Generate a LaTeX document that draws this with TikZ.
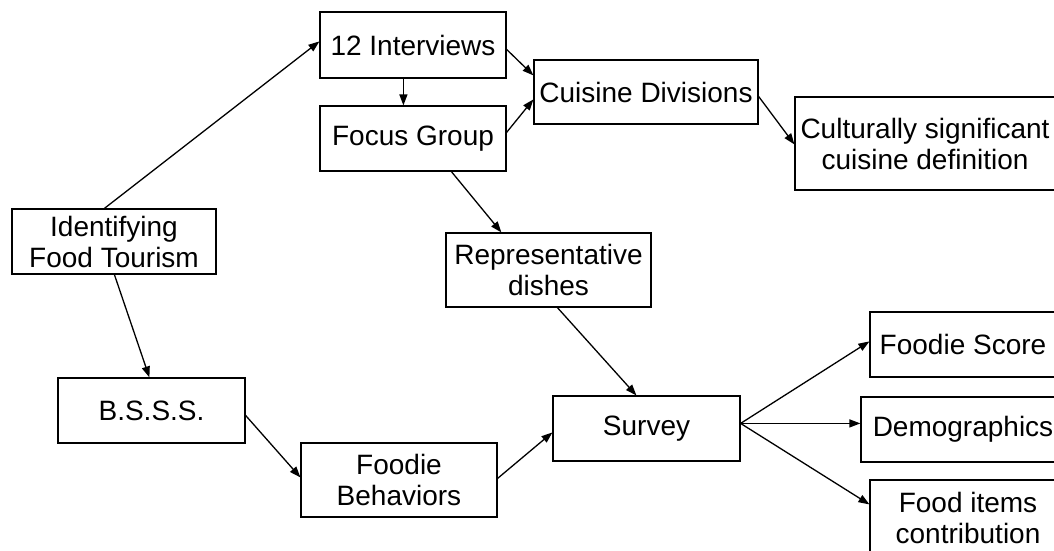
\documentclass[tikz,border=0pt]{standalone}
\usepackage{fontspec}
\setmainfont{Liberation Sans}
\usetikzlibrary{arrows.meta,calc}
\begin{document}
\begin{tikzpicture}[x=1pt,y=-1pt,
  box/.style={draw=black,line width=1.2pt,rectangle,inner sep=0pt,align=center,
    font=\fontsize{28}{31}\selectfont},
  conn/.style={line width=1.3pt,-{Triangle[length=11pt,width=8pt]}}]
\clip (0,0) rectangle (1054,550);
\fill[white] (0,0) rectangle (1054,550);
\node[box,minimum width=186pt,minimum height=66pt] (i12) at (413,45) {12 Interviews};
\node[box,minimum width=186pt,minimum height=65pt] (fg) at (413,138.5) {Focus Group};
\node[box,minimum width=224pt,minimum height=64pt] (cd) at (646,92) {Cuisine Divisions};
\node[box,minimum width=260pt,minimum height=93pt] (csc) at (925,143.5) {Culturally significant\\cuisine definition};
\node[box,minimum width=204pt,minimum height=65pt] (idf) at (114,241.5) {Identifying\\Food Tourism};
\node[box,minimum width=187pt,minimum height=65pt] (bsss) at (151.5,410.5) {B.S.S.S.};
\node[box,minimum width=196pt,minimum height=74pt] (fb) at (399,480) {Foodie\\Behaviors};
\node[box,minimum width=205pt,minimum height=74pt] (rd) at (548.5,270) {Representative\\dishes};
\node[box,minimum width=187pt,minimum height=65pt] (sv) at (646.5,428.5) {Survey};
\node[box,minimum width=186pt,minimum height=65pt] (fs) at (963,344.5) {Foodie Score};
\node[box,minimum width=204pt,minimum height=65pt] (dm) at (963,429.5) {Demographics};
\node[box,minimum width=196pt,minimum height=76pt] (fi) at (968,518) {Food items\\contribution};

\draw[conn] ($(idf.north west)+(93,0)$) -- ($(i12.north west)+(0,30)$);
\draw[conn] ($(idf.south west)+(103,0)$) -- ($(bsss.north west)+(92,0)$);
\draw[conn] ($(bsss.north east)+(0,38)$) -- ($(fb.north west)+(0,35)$);
\draw[conn] ($(fb.north east)+(0,36)$) -- ($(sv.north west)+(0,37)$);
\draw[conn] ($(rd.south west)+(112,0)$) -- ($(sv.north west)+(84,0)$);
\draw[conn] ($(fg.south west)+(132,0)$) -- ($(rd.north west)+(56,0)$);
\draw[conn] ($(i12.south west)+(84,0)$) -- ($(fg.north west)+(84,0)$);
\draw[conn] ($(i12.north east)+(0,38)$) -- ($(cd.north west)+(0,16)$);
\draw[conn] ($(fg.north east)+(0,27)$) -- ($(cd.north west)+(0,40)$);
\draw[conn] ($(cd.north east)+(0,37)$) -- ($(csc.north west)+(0,48)$);
\draw[conn] ($(sv.north east)+(0,28)$) -- ($(fs.north west)+(0,30)$);
\draw[conn] ($(sv.north east)+(0,28)$) -- ($(dm.north west)+(0,27)$);
\draw[conn] ($(sv.north east)+(0,28)$) -- ($(fi.north west)+(0,25)$);
\end{tikzpicture}
\end{document}
